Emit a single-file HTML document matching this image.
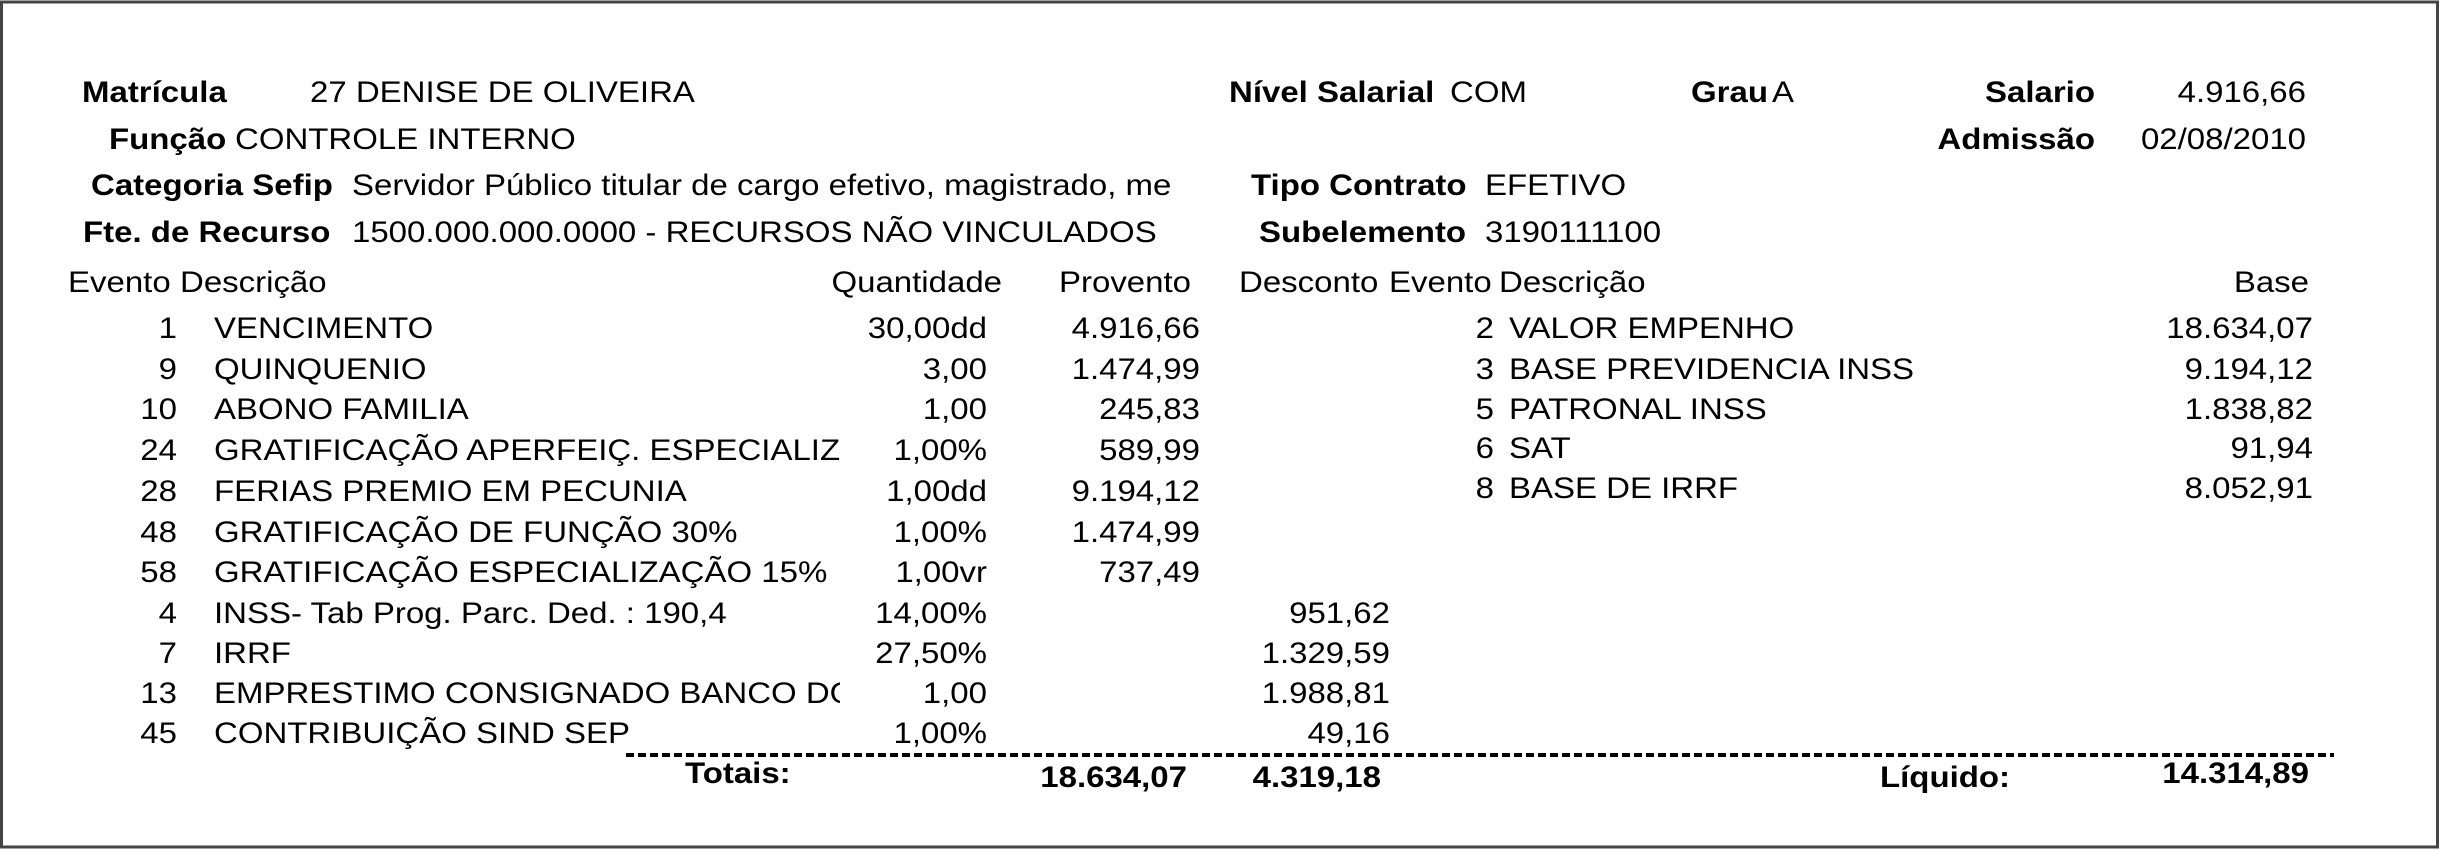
<!DOCTYPE html>
<html><head><meta charset="utf-8"><style>
html,body{margin:0;padding:0;background:#fff;}
svg{display:block;}
text{font-family:"Liberation Sans",Arial,sans-serif;font-size:30px;fill:#000;}
.b{font-weight:bold;}
.e{text-anchor:end;}
</style></head><body>
<svg width="2443" height="850" viewBox="0 0 2443 850" xmlns="http://www.w3.org/2000/svg">
<defs><clipPath id="c1"><rect x="0" y="0" width="1173" height="850"/></clipPath>
<clipPath id="c2"><rect x="0" y="0" width="840" height="850"/></clipPath></defs>
<rect x="1.5" y="2" width="2436" height="845" fill="#fff" stroke="#444" stroke-width="3"/>

<text class="b" transform="translate(82 102) scale(1.1 1)">Matrícula</text>
<text transform="translate(310 102) scale(1.1 1)">27 DENISE DE OLIVEIRA</text>
<text class="b" transform="translate(109 149) scale(1.1 1)">Função</text>
<text transform="translate(235 149) scale(1.1 1)">CONTROLE INTERNO</text>
<text class="b" transform="translate(91 195) scale(1.1 1)">Categoria Sefip</text>
<g clip-path="url(#c1)"><text transform="translate(352 195) scale(1.1 1)">Servidor Público titular de cargo efetivo, magistrado, membro</text></g>
<text class="b" transform="translate(83 242) scale(1.1 1)">Fte. de Recurso</text>
<text transform="translate(352 242) scale(1.1 1)">1500.000.000.0000 - RECURSOS NÃO VINCULADOS</text>

<text class="b" transform="translate(1229 102) scale(1.1 1)">Nível Salarial</text>
<text transform="translate(1450 102) scale(1.1 1)">COM</text>
<text class="b" transform="translate(1691 102) scale(1.1 1)">Grau</text>
<text transform="translate(1772 102) scale(1.1 1)">A</text>
<text class="b e" transform="translate(2095 102) scale(1.1 1)">Salario</text>
<text class="e" transform="translate(2306 102) scale(1.1 1)">4.916,66</text>
<text class="b e" transform="translate(2095 149) scale(1.1 1)">Admissão</text>
<text class="e" transform="translate(2306 149) scale(1.1 1)">02/08/2010</text>
<text class="b" transform="translate(1251 195) scale(1.1 1)">Tipo Contrato</text>
<text transform="translate(1485 195) scale(1.1 1)">EFETIVO</text>
<text class="b" transform="translate(1259 242) scale(1.1 1)">Subelemento</text>
<text transform="translate(1485 242) scale(1.1 1)">3190111100</text>

<text transform="translate(68 292) scale(1.1 1)">Evento</text>
<text transform="translate(180 292) scale(1.1 1)">Descrição</text>
<text class="e" transform="translate(1002 292) scale(1.1 1)">Quantidade</text>
<text class="e" transform="translate(1191 292) scale(1.1 1)">Provento</text>
<text transform="translate(1239 292) scale(1.1 1)">Desconto</text>
<text transform="translate(1389 292) scale(1.1 1)">Evento</text>
<text transform="translate(1499 292) scale(1.1 1)">Descrição</text>
<text class="e" transform="translate(2309 292) scale(1.1 1)">Base</text>

<g>
<text class="e" transform="translate(177 338) scale(1.1 1)">1</text>
<text class="e" transform="translate(177 379) scale(1.1 1)">9</text>
<text class="e" transform="translate(177 419) scale(1.1 1)">10</text>
<text class="e" transform="translate(177 460) scale(1.1 1)">24</text>
<text class="e" transform="translate(177 501) scale(1.1 1)">28</text>
<text class="e" transform="translate(177 542) scale(1.1 1)">48</text>
<text class="e" transform="translate(177 582) scale(1.1 1)">58</text>
<text class="e" transform="translate(177 623) scale(1.1 1)">4</text>
<text class="e" transform="translate(177 663) scale(1.1 1)">7</text>
<text class="e" transform="translate(177 703) scale(1.1 1)">13</text>
<text class="e" transform="translate(177 743) scale(1.1 1)">45</text>
</g>
<g clip-path="url(#c2)">
<text transform="translate(214 338) scale(1.1 1)">VENCIMENTO</text>
<text transform="translate(214 379) scale(1.1 1)">QUINQUENIO</text>
<text transform="translate(214 419) scale(1.1 1)">ABONO FAMILIA</text>
<text transform="translate(214 460) scale(1.1 1)">GRATIFICAÇÃO APERFEIÇ. ESPECIALIZAÇÃO</text>
<text transform="translate(214 501) scale(1.1 1)">FERIAS PREMIO EM PECUNIA</text>
<text transform="translate(214 542) scale(1.1 1)">GRATIFICAÇÃO DE FUNÇÃO 30%</text>
<text transform="translate(214 582) scale(1.1 1)">GRATIFICAÇÃO ESPECIALIZAÇÃO 15%</text>
<text transform="translate(214 623) scale(1.1 1)">INSS- Tab Prog. Parc. Ded. : 190,4</text>
<text transform="translate(214 663) scale(1.1 1)">IRRF</text>
<text transform="translate(214 703) scale(1.1 1)">EMPRESTIMO CONSIGNADO BANCO DO BRASIL</text>
<text transform="translate(214 743) scale(1.1 1)">CONTRIBUIÇÃO SIND SEP</text>
</g>
<g>
<text class="e" transform="translate(987 338) scale(1.1 1)">30,00dd</text>
<text class="e" transform="translate(987 379) scale(1.1 1)">3,00</text>
<text class="e" transform="translate(987 419) scale(1.1 1)">1,00</text>
<text class="e" transform="translate(987 460) scale(1.1 1)">1,00%</text>
<text class="e" transform="translate(987 501) scale(1.1 1)">1,00dd</text>
<text class="e" transform="translate(987 542) scale(1.1 1)">1,00%</text>
<text class="e" transform="translate(987 582) scale(1.1 1)">1,00vr</text>
<text class="e" transform="translate(987 623) scale(1.1 1)">14,00%</text>
<text class="e" transform="translate(987 663) scale(1.1 1)">27,50%</text>
<text class="e" transform="translate(987 703) scale(1.1 1)">1,00</text>
<text class="e" transform="translate(987 743) scale(1.1 1)">1,00%</text>

<text class="e" transform="translate(1200 338) scale(1.1 1)">4.916,66</text>
<text class="e" transform="translate(1200 379) scale(1.1 1)">1.474,99</text>
<text class="e" transform="translate(1200 419) scale(1.1 1)">245,83</text>
<text class="e" transform="translate(1200 460) scale(1.1 1)">589,99</text>
<text class="e" transform="translate(1200 501) scale(1.1 1)">9.194,12</text>
<text class="e" transform="translate(1200 542) scale(1.1 1)">1.474,99</text>
<text class="e" transform="translate(1200 582) scale(1.1 1)">737,49</text>

<text class="e" transform="translate(1390 623) scale(1.1 1)">951,62</text>
<text class="e" transform="translate(1390 663) scale(1.1 1)">1.329,59</text>
<text class="e" transform="translate(1390 703) scale(1.1 1)">1.988,81</text>
<text class="e" transform="translate(1390 743) scale(1.1 1)">49,16</text>
</g>

<g>
<text class="e" transform="translate(1494 338) scale(1.1 1)">2</text>
<text class="e" transform="translate(1494 379) scale(1.1 1)">3</text>
<text class="e" transform="translate(1494 419) scale(1.1 1)">5</text>
<text class="e" transform="translate(1494 458) scale(1.1 1)">6</text>
<text class="e" transform="translate(1494 498) scale(1.1 1)">8</text>
<text transform="translate(1509 338) scale(1.1 1)">VALOR EMPENHO</text>
<text transform="translate(1509 379) scale(1.1 1)">BASE PREVIDENCIA INSS</text>
<text transform="translate(1509 419) scale(1.1 1)">PATRONAL INSS</text>
<text transform="translate(1509 458) scale(1.1 1)">SAT</text>
<text transform="translate(1509 498) scale(1.1 1)">BASE DE IRRF</text>
<text class="e" transform="translate(2313 338) scale(1.1 1)">18.634,07</text>
<text class="e" transform="translate(2313 379) scale(1.1 1)">9.194,12</text>
<text class="e" transform="translate(2313 419) scale(1.1 1)">1.838,82</text>
<text class="e" transform="translate(2313 458) scale(1.1 1)">91,94</text>
<text class="e" transform="translate(2313 498) scale(1.1 1)">8.052,91</text>
</g>

<line x1="626" y1="755" x2="2334" y2="755" stroke="#000" stroke-width="4" stroke-dasharray="8 4"/>

<text class="b" transform="translate(685 783) scale(1.1 1)">Totais:</text>
<text class="b e" transform="translate(1187 787) scale(1.1 1)">18.634,07</text>
<text class="b e" transform="translate(1381 787) scale(1.1 1)">4.319,18</text>
<text class="b" transform="translate(1880 787) scale(1.1 1)">Líquido:</text>
<text class="b e" transform="translate(2309 783) scale(1.1 1)">14.314,89</text>
</svg>
</body></html>
